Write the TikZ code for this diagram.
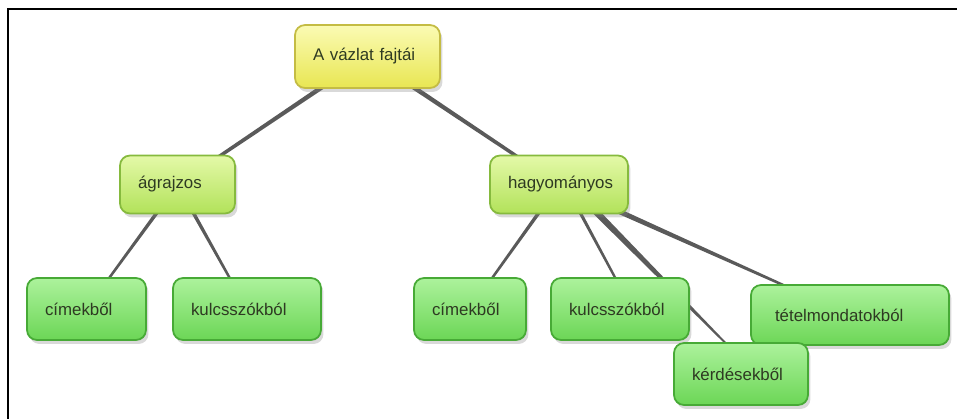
\documentclass[tikz,border=0pt]{standalone}
\usepackage{fontspec}
\setmainfont{Liberation Sans}
\usetikzlibrary{calc,shadows,backgrounds}
\definecolor{edgegray}{HTML}{5A5A5A}
\definecolor{labelgray}{HTML}{2E3A22}
\definecolor{yellowtop}{HTML}{FBFBB4}
\definecolor{yellowbot}{HTML}{E8E652}
\definecolor{yellowline}{HTML}{C4BC44}
\definecolor{limetop}{HTML}{E4F9A8}
\definecolor{limebot}{HTML}{B2E25A}
\definecolor{limeline}{HTML}{86BA3E}
\definecolor{greentop}{HTML}{ACF29C}
\definecolor{greenbot}{HTML}{6CD656}
\definecolor{greenline}{HTML}{47AA36}
% tapered connector: from, to, half width at start, half width at end
\newcommand{\taper}[4]{\fill[edgegray] ($(#1)!#3!90:(#2)$) -- ($(#2)!#4!-90:(#1)$) -- ($(#2)!#4!90:(#1)$) -- ($(#1)!#3!-90:(#2)$) -- cycle;}
\tikzset{
  bubble/.style={rounded corners=0.2cm, line width=1pt, align=left, inner xsep=0.36cm, text=labelgray,
    drop shadow={opacity=0.3, shadow xshift=0.05cm, shadow yshift=-0.08cm}},
  rootbox/.style={bubble, draw=yellowline, top color=yellowtop, bottom color=yellowbot},
  kindbox/.style={bubble, draw=limeline, top color=limetop, bottom color=limebot},
  leafbox/.style={bubble, draw=greenline, top color=greentop, bottom color=greenbot, minimum height=1.24cm}
}
\begin{document}
\begin{tikzpicture}[x=0.02cm, y=-0.02cm, font=\fontsize{9.6}{11}\selectfont]
	\useasboundingbox (0,0) rectangle (957,419);
	\draw[line width=0.06cm] (8,419)--(8,9)--(957,9);
	\node[rootbox, text width=2.18cm, minimum height=1.26cm] (vazlat) at (367.5,56.5) {A vázlat fajtái};
	\node[kindbox, text width=1.58cm, minimum height=1.16cm] (agrajzos) at (177.5,184.5) {ágrajzos};
	\node[kindbox, text width=2.04cm, minimum height=1.16cm] (hagyomanyos) at (559,184.5) {hagyományos};
	\node[leafbox, text width=1.66cm] (cimekA) at (86.5,309) {címekből};
	\node[leafbox, text width=2.24cm] (kulcsA) at (247,309) {kulcsszókból};
	\node[leafbox, text width=1.52cm] (cimekB) at (470,309) {címekből};
	\node[leafbox, text width=2.04cm] (kulcsB) at (620,309) {kulcsszókból};
	\node[leafbox, text width=3.0cm, inner xsep=0.48cm, minimum height=1.2cm] (tetel) at (850,315) {tételmondatokból};
	\node[leafbox, text width=1.96cm] (kerdes) at (741,374) {kérdésekből};
	\coordinate (hagK) at ($(hagyomanyos.center)+(10,0)$);
	\coordinate (hagL) at ($(hagyomanyos.center)+(6,0)$);
	\coordinate (kerdK) at ($(kerdes.center)+(15,0)$);
	\coordinate (kulcsL) at ($(kulcsB.center)+(12,0)$);
	\begin{scope}[on background layer]
		\taper{vazlat.center}{agrajzos.center}{0.05cm}{0.03cm}
		\taper{vazlat.center}{hagyomanyos.center}{0.05cm}{0.03cm}
		\taper{agrajzos.center}{cimekA.center}{0.04cm}{0.02cm}
		\taper{agrajzos.center}{kulcsA.center}{0.04cm}{0.02cm}
		\taper{hagyomanyos.center}{cimekB.center}{0.04cm}{0.02cm}
		\taper{hagL}{kulcsL}{0.035cm}{0.02cm}
		\taper{hagK}{kerdK}{0.075cm}{0.008cm}
		\taper{hagyomanyos.center}{tetel.center}{0.06cm}{0.015cm}
	\end{scope}
\end{tikzpicture}
\end{document}
